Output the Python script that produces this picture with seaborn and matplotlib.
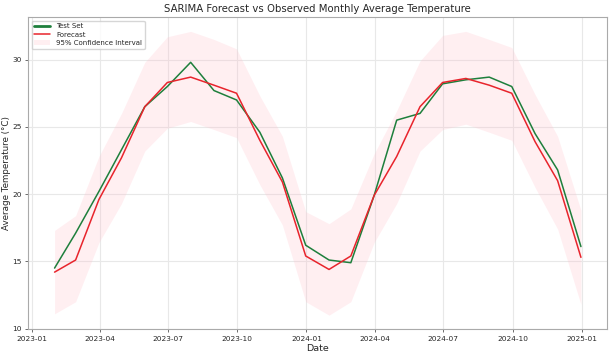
import matplotlib
matplotlib.use("Agg")
import matplotlib.pyplot as plt
import matplotlib.dates as mdates
import numpy as np
import pandas as pd
import seaborn as sns

# monthly dates (month end) of the test period
dates = pd.date_range("2023-01-31", "2024-12-31", freq="ME")

test_set = [14.5, 17.1, 20.2, 23.3, 26.5, 28.0, 29.8, 27.7, 27.0, 24.6, 21.2, 16.2,
            15.1, 14.9, 19.9, 25.5, 26.0, 28.2, 28.5, 28.7, 28.0, 24.5, 21.8, 16.1]
forecast = [14.2, 15.1, 19.6, 22.7, 26.5, 28.3, 28.7, 28.1, 27.5, 24.0, 20.9, 15.4,
            14.4, 15.4, 19.9, 22.8, 26.5, 28.3, 28.6, 28.1, 27.5, 23.9, 21.0, 15.3]
ci_lower = [11.1, 12.0, 16.4, 19.3, 23.2, 24.9, 25.4, 24.8, 24.2, 20.7, 17.7, 12.0,
            11.0, 12.0, 16.4, 19.3, 23.2, 24.8, 25.2, 24.6, 24.0, 20.5, 17.4, 11.8]
ci_upper = [17.3, 18.4, 22.8, 26.0, 29.8, 31.7, 32.1, 31.5, 30.8, 27.3, 24.3, 18.7,
            17.8, 18.9, 23.0, 26.2, 29.9, 31.8, 32.1, 31.5, 30.9, 27.4, 24.3, 18.8]

df = pd.DataFrame({"Date": dates, "Test Set": test_set, "Forecast": forecast,
                   "lower": ci_lower, "upper": ci_upper})

sns.set_style("whitegrid", {"axes.edgecolor": "#aaaaaa", "grid.color": "#e8e8e8",
                            "xtick.bottom": True, "ytick.left": True})
plt.rcParams["font.family"] = ["DejaVu Sans"]

fig = plt.figure(figsize=(6.14, 3.58), dpi=100)
ax = fig.add_subplot(111)

sns.lineplot(data=df, x="Date", y="Test Set", ax=ax, color="#1e7f3c", lw=1.1, label="Test Set")
sns.lineplot(data=df, x="Date", y="Forecast", ax=ax, color="#e8242c", lw=1.1, label="Forecast")
ax.fill_between(df["Date"], df["lower"], df["upper"], color="pink", alpha=0.25,
                lw=0, label="95% Confidence Interval")

ax.set_title("SARIMA Forecast vs Observed Monthly Average Temperature", fontsize=7.3, pad=4)
ax.set_xlabel("Date", fontsize=6.8, labelpad=1.5)
ax.set_ylabel("Average Temperature (°C)", fontsize=6.3, labelpad=1)
ax.xaxis.set_major_locator(mdates.MonthLocator(bymonth=[1, 4, 7, 10]))
ax.xaxis.set_major_formatter(mdates.DateFormatter("%Y-%m"))
ax.tick_params(axis="both", labelsize=5.3, length=2.5, width=0.6, pad=2, color="#555555")
ax.set_yticks([10, 15, 20, 25, 30])

leg = ax.legend(loc="upper left", fontsize=5, frameon=True, borderpad=0.4,
                handlelength=2.3, labelspacing=0.35)
leg.get_lines()[0].set_linewidth(2)
for line in leg.get_lines()[1:]:
    line.set_linewidth(1.1)

plt.subplots_adjust(left=0.046, right=0.989, top=0.952, bottom=0.08)
plt.savefig("out.png", dpi=100)
